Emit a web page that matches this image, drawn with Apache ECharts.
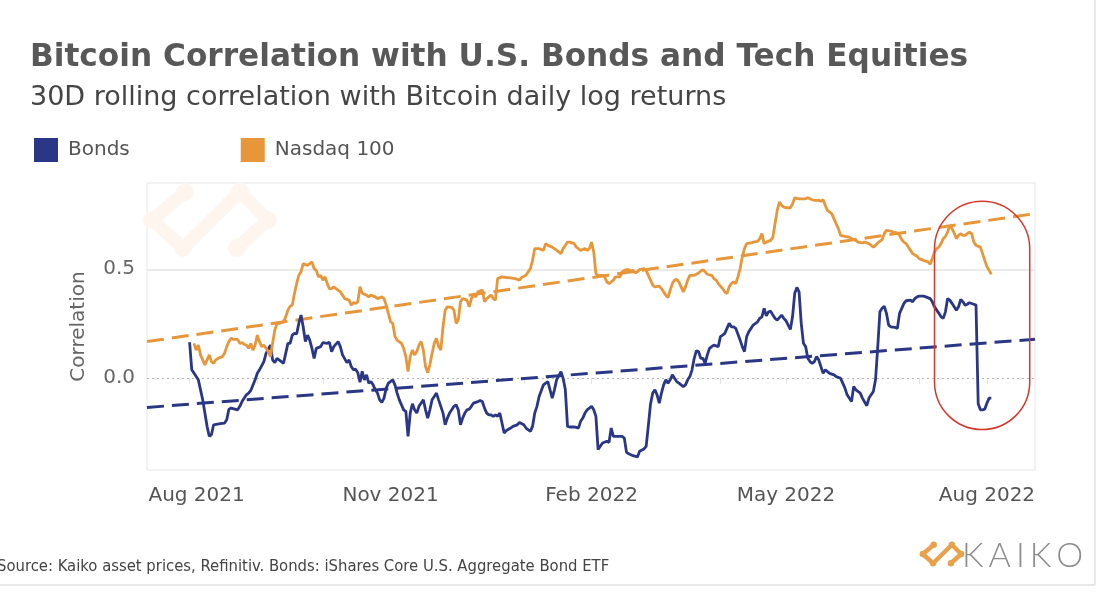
<!DOCTYPE html>
<html>
<head>
<meta charset="utf-8">
<script src="https://cdn.jsdelivr.net/npm/echarts@6/dist/echarts.min.js"></script>
<style>
html,body{margin:0;padding:0;background:#fff;}
#chart{width:1100px;height:598px;}
</style>
</head>
<body>
<div id="chart"></div>
<script>
// ---------- DATA ----------
const bondsDates = ['2021-08-01','2021-08-02','2021-08-05','2021-08-07','2021-08-09','2021-08-10','2021-08-11','2021-08-12','2021-08-15','2021-08-17','2021-08-18','2021-08-19','2021-08-20','2021-08-23','2021-08-24','2021-08-25','2021-08-27','2021-08-28','2021-08-29','2021-08-31',
'2021-09-01','2021-09-02','2021-09-04','2021-09-05','2021-09-07','2021-09-08','2021-09-09','2021-09-10','2021-09-12','2021-09-13','2021-09-14','2021-09-15','2021-09-16','2021-09-17','2021-09-18','2021-09-19','2021-09-20','2021-09-21','2021-09-22','2021-09-23','2021-09-24','2021-09-25','2021-09-26','2021-09-27','2021-09-28','2021-09-30',
'2021-10-01','2021-10-03','2021-10-04','2021-10-05','2021-10-06','2021-10-08','2021-10-09','2021-10-10','2021-10-12','2021-10-13','2021-10-14','2021-10-15','2021-10-16','2021-10-17','2021-10-18','2021-10-19','2021-10-20','2021-10-21','2021-10-22','2021-10-23','2021-10-24','2021-10-25','2021-10-26','2021-10-27','2021-10-28','2021-10-29','2021-10-30','2021-10-31',
'2021-11-02','2021-11-03','2021-11-04','2021-11-05','2021-11-07','2021-11-08','2021-11-09','2021-11-10','2021-11-11','2021-11-12','2021-11-13','2021-11-14','2021-11-15','2021-11-16','2021-11-17','2021-11-18','2021-11-19','2021-11-20','2021-11-21','2021-11-22','2021-11-23','2021-11-24','2021-11-25','2021-11-26','2021-11-27','2021-11-28','2021-11-29','2021-11-30',
'2021-12-01','2021-12-02','2021-12-03','2021-12-04','2021-12-05','2021-12-06','2021-12-07','2021-12-08','2021-12-09','2021-12-11','2021-12-12','2021-12-13','2021-12-14','2021-12-15','2021-12-16','2021-12-17','2021-12-18','2021-12-19','2021-12-20','2021-12-21','2021-12-22','2021-12-23','2021-12-24','2021-12-26','2021-12-27','2021-12-29','2021-12-30',
'2022-01-01','2022-01-02','2022-01-04','2022-01-05','2022-01-06','2022-01-07','2022-01-08','2022-01-10','2022-01-11','2022-01-12','2022-01-13','2022-01-14','2022-01-15','2022-01-16','2022-01-18','2022-01-19','2022-01-20','2022-01-21','2022-01-22','2022-01-24','2022-01-25','2022-01-26','2022-01-27','2022-01-28','2022-01-29','2022-01-30','2022-01-31',
'2022-02-01','2022-02-02','2022-02-03','2022-02-04','2022-02-05','2022-02-06','2022-02-08','2022-02-09','2022-02-10','2022-02-11','2022-02-12','2022-02-13','2022-02-15','2022-02-16','2022-02-17','2022-02-18','2022-02-20','2022-02-22','2022-02-23','2022-02-25','2022-02-26','2022-02-27','2022-02-28',
'2022-03-01','2022-03-02','2022-03-03','2022-03-04','2022-03-05','2022-03-06','2022-03-07','2022-03-08','2022-03-09','2022-03-10','2022-03-11','2022-03-12','2022-03-13','2022-03-15','2022-03-16','2022-03-17','2022-03-18','2022-03-19','2022-03-20','2022-03-21','2022-03-22','2022-03-23','2022-03-24','2022-03-25','2022-03-26','2022-03-27','2022-03-28','2022-03-29','2022-03-31',
'2022-04-01','2022-04-02','2022-04-03','2022-04-04','2022-04-05','2022-04-06','2022-04-07','2022-04-08','2022-04-10','2022-04-11','2022-04-12','2022-04-13','2022-04-14','2022-04-15','2022-04-16','2022-04-18','2022-04-19','2022-04-20','2022-04-21','2022-04-22','2022-04-23','2022-04-24','2022-04-25','2022-04-26','2022-04-27','2022-04-29','2022-04-30',
'2022-05-01','2022-05-02','2022-05-03','2022-05-04','2022-05-05','2022-05-06','2022-05-07','2022-05-08','2022-05-09','2022-05-10','2022-05-11','2022-05-12','2022-05-13','2022-05-14','2022-05-15','2022-05-16','2022-05-17','2022-05-18','2022-05-19','2022-05-20','2022-05-21','2022-05-23','2022-05-24','2022-05-26','2022-05-27','2022-05-28','2022-05-29','2022-05-31',
'2022-06-01','2022-06-02','2022-06-04','2022-06-05','2022-06-07','2022-06-08','2022-06-10','2022-06-11','2022-06-12','2022-06-13','2022-06-14','2022-06-15','2022-06-16','2022-06-17','2022-06-18','2022-06-20','2022-06-21','2022-06-22','2022-06-23','2022-06-24','2022-06-25','2022-06-27','2022-06-28','2022-06-29','2022-06-30',
'2022-07-01','2022-07-03','2022-07-04','2022-07-06','2022-07-07','2022-07-08','2022-07-09','2022-07-10','2022-07-11','2022-07-12','2022-07-13','2022-07-14','2022-07-15','2022-07-16','2022-07-17','2022-07-18','2022-07-19','2022-07-20','2022-07-21','2022-07-22','2022-07-23','2022-07-24','2022-07-26','2022-07-27','2022-07-28','2022-07-29','2022-07-30','2022-07-31',
'2022-08-01','2022-08-02','2022-08-03'];
const bondsValues = [0.164,0.037,-0.009,-0.101,-0.223,-0.269,-0.261,-0.216,-0.211,-0.208,-0.193,-0.144,-0.139,-0.147,-0.131,-0.109,-0.078,-0.07,-0.058,-0.009,
0.021,0.037,0.075,0.113,0.151,0.083,0.07,0.09,0.075,0.067,0.113,0.159,0.159,0.197,0.205,0.202,0.251,0.289,0.235,0.167,0.197,0.174,0.136,0.09,0.136,0.144,
0.162,0.159,0.164,0.121,0.144,0.167,0.144,0.106,0.07,0.083,0.052,0.037,0.04,0.024,-0.02,0.03,-0.009,0.014,-0.024,-0.017,-0.032,-0.055,-0.07,-0.101,-0.113,-0.093,-0.047,-0.024,
-0.009,-0.032,-0.07,-0.101,-0.147,-0.154,-0.269,-0.162,-0.119,-0.147,-0.162,-0.131,-0.116,-0.101,-0.147,-0.185,-0.147,-0.101,-0.086,-0.07,-0.101,-0.131,-0.162,-0.216,-0.185,-0.162,-0.147,-0.131,
-0.124,-0.147,-0.216,-0.185,-0.162,-0.147,-0.144,-0.131,-0.116,-0.109,-0.104,-0.109,-0.139,-0.162,-0.17,-0.17,-0.177,-0.17,-0.177,-0.162,-0.208,-0.254,-0.242,-0.231,-0.223,-0.216,-0.205,
-0.216,-0.231,-0.246,-0.223,-0.162,-0.131,-0.086,-0.032,-0.024,-0.017,-0.055,-0.093,-0.055,-0.009,0.029,-0.002,-0.055,-0.223,-0.226,-0.226,-0.228,-0.231,-0.2,-0.185,-0.162,-0.147,-0.139,
-0.131,-0.147,-0.177,-0.33,-0.315,-0.3,-0.292,-0.297,-0.231,-0.269,-0.269,-0.269,-0.269,-0.277,-0.343,-0.349,-0.358,-0.364,-0.338,-0.327,-0.315,-0.22,-0.12,
-0.07,-0.055,-0.078,-0.116,-0.07,-0.032,-0.009,-0.024,-0.009,0.014,-0.002,-0.017,-0.024,-0.04,-0.032,-0.009,0.006,0.037,0.09,0.125,0.121,0.09,0.09,0.067,0.106,0.136,0.144,0.151,0.144,
0.19,0.197,0.205,0.228,0.251,0.235,0.235,0.228,0.174,0.144,0.121,0.19,0.213,0.228,0.243,0.258,0.274,0.281,0.32,0.285,0.304,0.307,0.289,0.274,0.266,0.289,0.274,
0.263,0.243,0.223,0.281,0.388,0.416,0.396,0.25,0.159,0.144,0.09,0.075,0.067,0.075,0.098,0.083,0.052,0.021,0.037,0.029,0.021,0.014,0.006,-0.002,-0.024,-0.047,-0.078,-0.109,
-0.04,-0.055,-0.07,-0.093,-0.128,-0.093,-0.063,-0.009,0.14,0.304,0.32,0.33,0.297,0.243,0.235,0.232,0.228,0.297,0.32,0.343,0.355,0.358,0.35,0.365,0.373,
0.376,0.376,0.373,0.365,0.35,0.327,0.312,0.297,0.281,0.274,0.304,0.365,0.358,0.343,0.327,0.312,0.327,0.361,0.35,0.335,0.339,0.346,0.339,0.335,-0.119,-0.147,-0.147,-0.144,
-0.116,-0.093,-0.093];

const nasdaqDates = ['2021-08-03','2021-08-04','2021-08-05','2021-08-06','2021-08-07','2021-08-08','2021-08-09','2021-08-10','2021-08-11','2021-08-12','2021-08-13','2021-08-14','2021-08-16','2021-08-17','2021-08-18','2021-08-19','2021-08-20','2021-08-21','2021-08-23','2021-08-24','2021-08-25','2021-08-26','2021-08-27','2021-08-28','2021-08-29','2021-08-30','2021-08-31',
'2021-09-01','2021-09-02','2021-09-03','2021-09-04','2021-09-05','2021-09-06','2021-09-07','2021-09-08','2021-09-09','2021-09-10','2021-09-11','2021-09-13','2021-09-14','2021-09-15','2021-09-16','2021-09-17','2021-09-18','2021-09-19','2021-09-20','2021-09-21','2021-09-22','2021-09-24','2021-09-25','2021-09-26','2021-09-27','2021-09-28','2021-09-29','2021-09-30',
'2021-10-01','2021-10-02','2021-10-03','2021-10-04','2021-10-05','2021-10-06','2021-10-07','2021-10-09','2021-10-10','2021-10-11','2021-10-13','2021-10-14','2021-10-15','2021-10-16','2021-10-17','2021-10-18','2021-10-19','2021-10-20','2021-10-21','2021-10-22','2021-10-23','2021-10-25','2021-10-26','2021-10-28','2021-10-29','2021-10-30','2021-10-31',
'2021-11-01','2021-11-02','2021-11-03','2021-11-04','2021-11-06','2021-11-07','2021-11-08','2021-11-09','2021-11-10','2021-11-11','2021-11-12','2021-11-13','2021-11-14','2021-11-15','2021-11-16','2021-11-17','2021-11-18','2021-11-19','2021-11-20','2021-11-21','2021-11-22','2021-11-23','2021-11-24','2021-11-25','2021-11-26','2021-11-27','2021-11-29','2021-11-30',
'2021-12-01','2021-12-02','2021-12-03','2021-12-04','2021-12-06','2021-12-07','2021-12-08','2021-12-09','2021-12-10','2021-12-11','2021-12-13','2021-12-14','2021-12-15','2021-12-16','2021-12-17','2021-12-18','2021-12-19','2021-12-20','2021-12-22','2021-12-24','2021-12-26','2021-12-28','2021-12-30','2021-12-31',
'2022-01-02','2022-01-03','2022-01-04','2022-01-05','2022-01-06','2022-01-07','2022-01-08','2022-01-10','2022-01-11','2022-01-12','2022-01-14','2022-01-15','2022-01-17','2022-01-18','2022-01-19','2022-01-21','2022-01-22','2022-01-24','2022-01-25','2022-01-26','2022-01-27','2022-01-29','2022-01-30','2022-01-31',
'2022-02-01','2022-02-02','2022-02-03','2022-02-04','2022-02-06','2022-02-07','2022-02-08','2022-02-09','2022-02-10','2022-02-11','2022-02-12','2022-02-14','2022-02-15','2022-02-16','2022-02-17','2022-02-18','2022-02-19','2022-02-20','2022-02-21','2022-02-22','2022-02-23','2022-02-25','2022-02-26','2022-02-27','2022-02-28',
'2022-03-01','2022-03-02','2022-03-04','2022-03-05','2022-03-06','2022-03-07','2022-03-08','2022-03-09','2022-03-10','2022-03-11','2022-03-12','2022-03-13','2022-03-14','2022-03-15','2022-03-16','2022-03-17','2022-03-18','2022-03-20','2022-03-21','2022-03-22','2022-03-23','2022-03-24','2022-03-25','2022-03-26','2022-03-28','2022-03-29','2022-03-30','2022-03-31',
'2022-04-02','2022-04-03','2022-04-04','2022-04-05','2022-04-06','2022-04-07','2022-04-08','2022-04-09','2022-04-10','2022-04-11','2022-04-12','2022-04-13','2022-04-15','2022-04-16','2022-04-18','2022-04-19','2022-04-20','2022-04-21','2022-04-22','2022-04-24','2022-04-25','2022-04-26','2022-04-27','2022-04-28','2022-04-29','2022-04-30',
'2022-05-01','2022-05-03','2022-05-04','2022-05-05','2022-05-07','2022-05-08','2022-05-10','2022-05-11','2022-05-13','2022-05-14','2022-05-16','2022-05-17','2022-05-18','2022-05-19','2022-05-20','2022-05-22','2022-05-23','2022-05-24','2022-05-25','2022-05-26','2022-05-28','2022-05-30','2022-05-31',
'2022-06-02','2022-06-03','2022-06-05','2022-06-06','2022-06-08','2022-06-09','2022-06-10','2022-06-11','2022-06-12','2022-06-14','2022-06-15','2022-06-16','2022-06-18','2022-06-19','2022-06-21','2022-06-22','2022-06-23','2022-06-24','2022-06-25','2022-06-26','2022-06-27','2022-06-28','2022-06-30',
'2022-07-01','2022-07-03','2022-07-05','2022-07-06','2022-07-07','2022-07-08','2022-07-09','2022-07-10','2022-07-11','2022-07-12','2022-07-13','2022-07-14','2022-07-15','2022-07-16','2022-07-17','2022-07-18','2022-07-19','2022-07-20','2022-07-21','2022-07-22','2022-07-23','2022-07-24','2022-07-25','2022-07-26','2022-07-27','2022-07-29','2022-07-30','2022-07-31',
'2022-08-01','2022-08-02','2022-08-03'];
const nasdaqValues = [0.159,0.128,0.151,0.106,0.083,0.06,0.083,0.106,0.075,0.067,0.083,0.09,0.098,0.113,0.144,0.167,0.182,0.177,0.177,0.159,0.162,0.154,0.151,0.136,0.159,0.128,0.151,
0.197,0.167,0.144,0.151,0.136,0.121,0.098,0.159,0.22,0.251,0.251,0.258,0.281,0.312,0.33,0.335,0.388,0.434,0.472,0.488,0.526,0.518,0.526,0.534,0.503,0.495,0.465,0.472,
0.45,0.465,0.434,0.41,0.411,0.419,0.411,0.396,0.381,0.365,0.358,0.335,0.346,0.343,0.35,0.42,0.39,0.385,0.381,0.373,0.381,0.373,0.365,0.373,0.365,0.335,0.297,
0.258,0.251,0.19,0.174,0.159,0.136,0.098,0.029,0.098,0.128,0.106,0.121,0.151,0.167,0.128,0.052,0.024,0.06,0.113,0.159,0.182,0.144,0.128,0.235,0.312,0.327,0.324,0.312,
0.251,0.266,0.35,0.365,0.358,0.327,0.365,0.381,0.373,0.396,0.404,0.35,0.365,0.373,0.381,0.365,0.358,0.457,0.465,0.462,0.46,0.457,0.45,0.462,
0.472,0.488,0.503,0.541,0.595,0.595,0.595,0.587,0.618,0.61,0.602,0.595,0.58,0.572,0.595,0.625,0.625,0.618,0.602,0.595,0.587,0.595,0.587,0.595,
0.625,0.58,0.48,0.472,0.472,0.465,0.442,0.434,0.442,0.45,0.465,0.465,0.488,0.495,0.498,0.498,0.492,0.495,0.483,0.488,0.498,0.503,0.495,0.472,0.45,
0.427,0.419,0.422,0.411,0.396,0.381,0.37,0.404,0.434,0.45,0.453,0.442,0.419,0.396,0.419,0.45,0.472,0.472,0.477,0.483,0.492,0.498,0.488,0.477,0.472,0.457,0.45,0.434,
0.411,0.396,0.388,0.419,0.434,0.442,0.434,0.465,0.503,0.557,0.595,0.618,0.621,0.625,0.628,0.641,0.664,0.618,0.625,0.633,0.648,0.709,0.771,0.809,0.794,0.786,
0.783,0.783,0.801,0.829,0.824,0.824,0.824,0.829,0.82,0.817,0.817,0.813,0.82,0.794,0.771,0.755,0.732,0.709,0.687,0.656,0.651,0.648,0.641,
0.633,0.625,0.621,0.625,0.618,0.61,0.602,0.61,0.621,0.636,0.664,0.679,0.676,0.671,0.667,0.656,0.636,0.625,0.618,0.602,0.587,0.572,0.56,
0.549,0.541,0.534,0.523,0.549,0.58,0.595,0.602,0.618,0.641,0.651,0.671,0.702,0.687,0.667,0.641,0.656,0.664,0.656,0.656,0.664,0.671,0.664,0.625,0.61,0.602,0.572,0.541,
0.511,0.495,0.477];

// linear trend lines (endpoints at the axis range)
const axisRange = ['2021-07-12 12:00', '2022-08-23 00:00'];
const bondsTrend = [-0.136, 0.178];
const nasdaqTrend = [0.167, 0.756];

// axis ticks / labels
const monthTicks = ['2021-08-01','2021-09-01','2021-10-01','2021-11-01','2021-12-01','2022-01-01','2022-02-01','2022-03-01','2022-04-01','2022-05-01','2022-06-01','2022-07-01','2022-08-01'];
const xLabelDates = ['2021-08-01','2021-11-01','2022-02-01','2022-05-01','2022-08-01'];
const xLabelTexts = ['Aug 2021','Nov 2021','Feb 2022','May 2022','Aug 2022'];
const yLabelValues = [0, 0.5];
const yRange = [-0.424, 0.897];

// highlighted window (data units)
const highlight = { from: '2022-07-08', to: '2022-08-20 14:00', top: 0.813, bottom: -0.238 };

// ---------- CHART ----------
const ts = s => echarts.number.parseDate(s).getTime();
const pairs = (d, v) => d.map((x, i) => [ts(x), v[i]]);
const labelStamps = xLabelDates.map(ts);

const NAVY = '#2a3686';
const ORANGE = '#e8963a';
const FONT = '"DejaVu Sans", sans-serif';

const chart = echarts.init(document.getElementById('chart'), null, { renderer: 'canvas' });

function logo(cx, cy, s, color, lw, r, z) {
  const P = (x, y) => [cx + x * s, cy + y * s];
  const st = () => ({ stroke: color, lineWidth: lw, fill: null, lineCap: 'round', lineJoin: 'round' });
  const els = [
    { type: 'polyline', z: z, silent: true, shape: { points: [P(-25, -28), P(-58, 0), P(-27, 28)] }, style: st() },
    { type: 'polyline', z: z, silent: true, shape: { points: [P(30, -28), P(58, 0), P(27, 28)] }, style: st() },
    { type: 'polyline', z: z, silent: true, shape: { points: [P(30, -28), P(-27, 28)] }, style: st() }
  ];
  [[-25, -28], [-27, 28], [30, -28], [27, 28], [-58, 0], [58, 0]].forEach(p => {
    const c = P(p[0], p[1]);
    els.push({ type: 'circle', z: z, silent: true, shape: { cx: c[0], cy: c[1], r: r }, style: { fill: color } });
  });
  return els;
}

const option = {
  backgroundColor: '#ffffff',
  animation: false,
  title: [
    { text: 'Bitcoin Correlation with U.S. Bonds and Tech Equities', left: 30, top: 42, padding: 0,
      textStyle: { fontFamily: FONT, fontSize: 31.2, fontWeight: 'bold', color: '#585858' } },
    { text: '30D rolling correlation with Bitcoin daily log returns', left: 30, top: 84, padding: 0,
      textStyle: { fontFamily: FONT, fontSize: 27, fontWeight: 'normal', color: '#454545' } },
    { text: 'Source: Kaiko asset prices, Refinitiv. Bonds: iShares Core U.S. Aggregate Bond ETF', left: -3, top: 558, padding: 0,
      textStyle: { fontFamily: '"DejaVu Sans Condensed", "DejaVu Sans", sans-serif', fontSize: 16.5, fontWeight: 'normal', color: '#444' } }
  ],
  legend: {
    data: ['Bonds', 'Nasdaq 100'],
    left: 34, top: 138, padding: 0,
    icon: 'rect', itemWidth: 24, itemHeight: 24, itemGap: 111,
    textStyle: { fontFamily: FONT, fontSize: 20, color: '#555', padding: [2, 0, 0, 5] }
  },
  grid: { left: 147, right: 65, top: 183, bottom: 128, show: true, borderColor: '#e6e6e6', borderWidth: 1, backgroundColor: 'transparent' },
  xAxis: {
    type: 'value',
    min: ts(axisRange[0]), max: ts(axisRange[1]),
    axisLine: { show: false },
    splitLine: { show: false },
    axisTick: { show: true, length: 6, lineStyle: { color: '#e3e3e3', width: 1 }, customValues: monthTicks.map(ts) },
    axisLabel: {
      customValues: labelStamps,
      margin: 16,
      fontFamily: FONT, fontSize: 20, color: '#555',
      formatter: v => {
        const i = labelStamps.indexOf(v);
        if (i < 0) return '';
        return i === 0 ? '{first|' + xLabelTexts[i] + '}' : xLabelTexts[i];
      },
      rich: { first: { fontFamily: FONT, fontSize: 20, color: '#555', padding: [0, 0, 0, 14] } }
    }
  },
  yAxis: {
    type: 'value',
    min: yRange[0], max: yRange[1],
    name: 'Correlation', nameLocation: 'middle', nameGap: 58,
    nameTextStyle: { fontFamily: FONT, fontSize: 20, color: '#666' },
    axisLine: { show: false }, axisTick: { show: false }, splitLine: { show: false },
    axisLabel: { customValues: yLabelValues, margin: 12, fontFamily: FONT, fontSize: 20, color: '#666', formatter: v => Number(v).toFixed(1) }
  },
  series: [
    { name: 'Bonds trend', type: 'line', data: [[ts(axisRange[0]), bondsTrend[0]], [ts(axisRange[1]), bondsTrend[1]]],
      showSymbol: false, silent: true, z: 2,
      lineStyle: { color: NAVY, width: 3, type: [17, 8] },
      markLine: { silent: true, symbol: 'none', z: 1, label: { show: false },
        data: [
          { yAxis: 0.5, lineStyle: { color: '#ebebeb', width: 2, type: 'solid' } },
          { yAxis: 0, lineStyle: { color: '#b5b5b5', width: 1, type: [2, 3] } }
        ] } },
    { name: 'Nasdaq trend', type: 'line', data: [[ts(axisRange[0]), nasdaqTrend[0]], [ts(axisRange[1]), nasdaqTrend[1]]],
      showSymbol: false, silent: true, z: 2,
      lineStyle: { color: ORANGE, width: 3, type: [17, 8] } },
    { name: 'Bonds', type: 'line', data: pairs(bondsDates, bondsValues), showSymbol: false, z: 3,
      itemStyle: { color: NAVY }, lineStyle: { color: NAVY, width: 2.8 } },
    { name: 'Nasdaq 100', type: 'line', data: pairs(nasdaqDates, nasdaqValues), showSymbol: false, z: 4,
      itemStyle: { color: ORANGE }, lineStyle: { color: ORANGE, width: 2.8 } }
  ]
};
chart.setOption(option);

// decorations computed from data/axis positions
const p1 = chart.convertToPixel({ gridIndex: 0 }, [ts(highlight.from), highlight.top]);
const p2 = chart.convertToPixel({ gridIndex: 0 }, [ts(highlight.to), highlight.bottom]);
const w = p2[0] - p1[0], h = p2[1] - p1[1];

const graphics = [].concat(
  logo(210, 220, 1, '#fef6ee', 13, 9, 0),
  logo(942, 554, 0.33, '#e9a24c', 4.5, 3.2, 10),
  [
    { type: 'text', left: 962, top: 539, z: 10, silent: true,
      style: { text: '{k|K}{k|A}{k|I}{k|K}{o|O}', font: '300 34px Lato, "DejaVu Sans", sans-serif', fill: '#8d8d8d',
        rich: { k: { font: '300 34px Lato, "DejaVu Sans", sans-serif', fill: '#8d8d8d', padding: [0, 5, 0, 0] },
                o: { font: '300 34px Lato, "DejaVu Sans", sans-serif', fill: '#8d8d8d' } } } },
    { type: 'rect', z: 20, silent: true, shape: { x: p1[0], y: p1[1], width: w, height: h, r: w / 2 },
      style: { fill: null, stroke: '#d8372c', lineWidth: 1.5 } },
    { type: 'line', z: 0, silent: true, shape: { x1: 0, y1: 585, x2: 1095, y2: 585 }, style: { stroke: '#e2e2e2', lineWidth: 1.5 } },
    { type: 'line', z: 0, silent: true, shape: { x1: 1095, y1: 0, x2: 1095, y2: 585 }, style: { stroke: '#e2e2e2', lineWidth: 1.5 } }
  ]
);
chart.setOption({ graphic: graphics });
</script>
</body>
</html>
